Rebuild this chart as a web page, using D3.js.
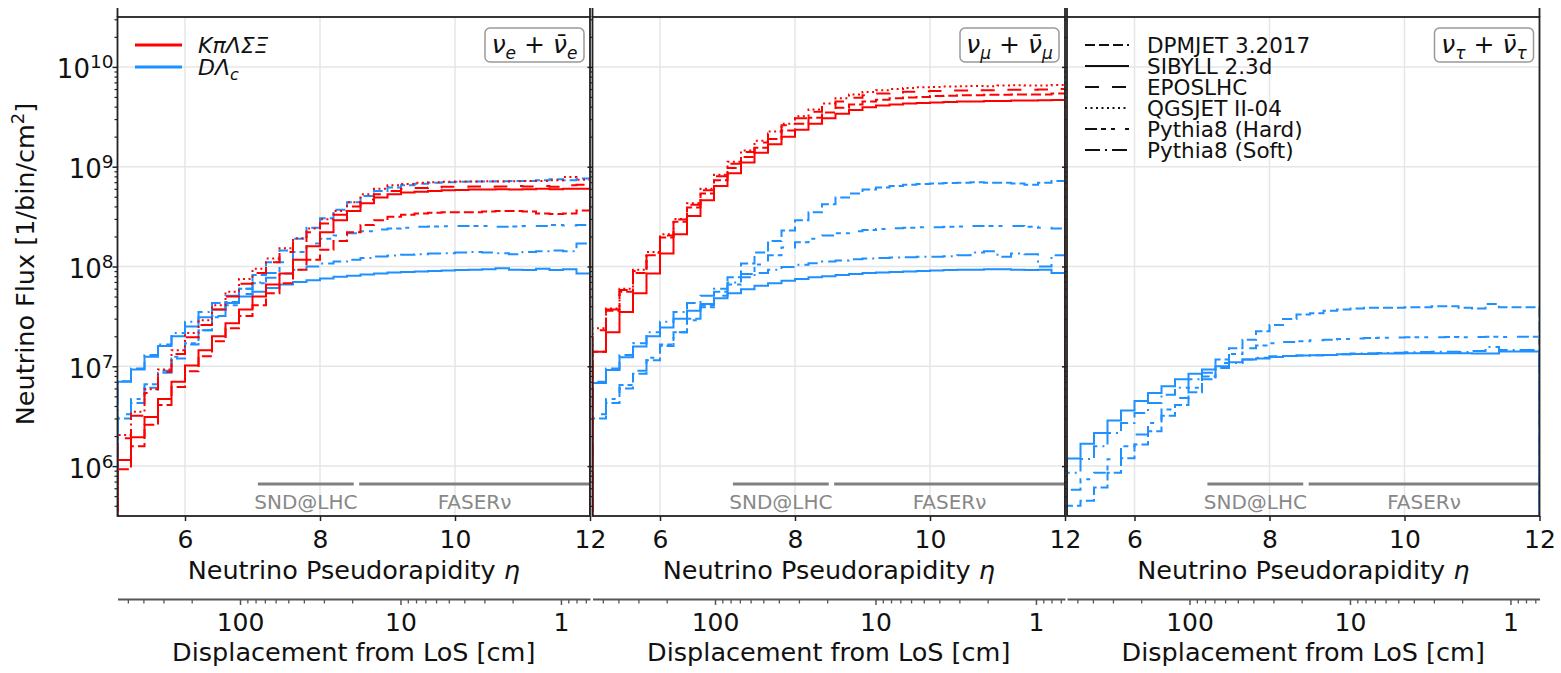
<!DOCTYPE html>
<html>
<head>
<meta charset="utf-8">
<script src="https://cdn.jsdelivr.net/npm/d3@7"></script>
<style>
  body { margin: 0; background: #fff; }
  svg { display: block; font-family: "DejaVu Sans", sans-serif; }
</style>
</head>
<body>
<div id="chart"></div>
<script>
// bin edges in pseudorapidity (35 bins of 0.2)
var etaEdges = [5.0, 5.2, 5.4, 5.6, 5.8, 6.0, 6.2, 6.4, 6.6, 6.8, 7.0, 7.2, 7.4, 7.6, 7.8, 8.0, 8.2, 8.4,
  8.6, 8.8, 9.0, 9.2, 9.4, 9.6, 9.8, 10.0, 10.2, 10.4, 10.6, 10.8, 11.0, 11.2, 11.4, 11.6, 11.8, 12.0];

var etaTicks = [6, 8, 10, 12];
var fluxTicks = [1e6, 1e7, 1e8, 1e9, 1e10];
var dispTicks = [100, 10, 1];
var generators = ["DPMJET 3.2017", "SIBYLL 2.3d", "EPOSLHC", "QGSJET II-04", "Pythia8 (Hard)", "Pythia8 (Soft)"];
var flavours = ["e", "μ", "τ"];
var parents = ["KπΛΣΞ", "DΛ"];

// detector coverage in eta
var detectors = [
  { name: "SND@LHC", from: 7.08, to: 8.5 },
  { name: "FASERν", from: 8.58, to: 12 }
];

// ---- nu_e + nubar_e ----
var nueLightSibyll = [1.15e6, 1.95e6, 3.1e6, 4.7e6, 7.0e6, 1.02e7, 1.45e7, 2.0e7, 2.7e7, 3.7e7, 5.0e7, 6.6e7, 8.5e7, 1.17e8, 1.6e8, 2.2e8, 2.9e8, 3.6e8,
  4.3e8, 4.9e8, 5.3e8, 5.5e8, 5.6e8, 5.7e8, 5.8e8, 5.85e8, 5.9e8, 5.9e8, 5.95e8, 5.9e8, 5.95e8, 6.0e8, 5.95e8, 6.0e8, 6.0e8];
var nueLightEpos = [1.9e6, 3.2e6, 5.4e6, 8.8e6, 1.33e7, 1.95e7, 2.6e7, 3.7e7, 5.0e7, 6.7e7, 8.6e7, 1.1e8, 1.4e8, 1.75e8, 2.2e8, 2.7e8, 3.3e8, 4.0e8,
  4.7e8, 5.3e8, 5.7e8, 6.0e8, 6.1e8, 6.2e8, 6.3e8, 6.3e8, 6.35e8, 6.3e8, 6.35e8, 6.4e8, 6.35e8, 6.4e8, 6.3e8, 6.5e8, 6.6e8];
var nueLightQgsjet = [2.05e6, 3.5e6, 5.9e6, 9.3e6, 1.45e7, 2.15e7, 2.9e7, 4.1e7, 5.6e7, 7.5e7, 9.5e7, 1.2e8, 1.52e8, 1.92e8, 2.4e8, 2.97e8, 3.6e8, 4.4e8,
  5.3e8, 6.0e8, 6.5e8, 6.7e8, 6.9e8, 7.0e8, 7.05e8, 7.1e8, 7.1e8, 7.15e8, 7.1e8, 7.15e8, 7.2e8, 7.2e8, 7.3e8, 7.9e8, 7.4e8];
var nueLightDpmjet = [9.3e5, 1.58e6, 2.6e6, 4.1e6, 6.2e6, 8.9e6, 1.26e7, 1.78e7, 2.4e7, 3.2e7, 4.1e7, 5.4e7, 6.8e7, 9.3e7, 1.17e8, 1.47e8, 1.8e8, 2.2e8,
  2.6e8, 2.9e8, 3.15e8, 3.3e8, 3.4e8, 3.45e8, 3.5e8, 3.5e8, 3.5e8, 3.55e8, 3.6e8, 3.6e8, 3.55e8, 3.4e8, 3.35e8, 3.4e8, 3.65e8];
var nueCharmSibyll = [7.0e6, 9.3e6, 1.25e7, 1.6e7, 2.0e7, 2.5e7, 3.1e7, 3.7e7, 4.3e7, 5.0e7, 5.6e7, 6.1e7, 6.6e7, 7.0e7, 7.3e7, 7.6e7, 7.9e7, 8.1e7,
  8.3e7, 8.5e7, 8.7e7, 8.8e7, 8.9e7, 9.0e7, 9.1e7, 9.2e7, 9.3e7, 9.4e7, 9.6e7, 9.3e7, 9.2e7, 9.5e7, 9.2e7, 9.4e7, 8.5e7];
var nueCharmDpmjet = [3.0e6, 4.3e6, 6.1e6, 8.6e6, 1.2e7, 1.65e7, 2.3e7, 3.2e7, 4.4e7, 6.0e7, 8.2e7, 1.1e8, 1.45e8, 1.9e8, 2.45e8, 3.05e8, 3.7e8, 4.4e8,
  5.1e8, 5.7e8, 6.2e8, 6.5e8, 6.75e8, 6.9e8, 7.0e8, 7.05e8, 7.1e8, 7.1e8, 7.15e8, 7.2e8, 7.2e8, 7.3e8, 7.5e8, 7.3e8, 7.6e8];
var nueCharmHard = [3.3e6, 4.7e6, 6.6e6, 9.0e6, 1.25e7, 1.7e7, 2.3e7, 3.1e7, 4.1e7, 5.3e7, 6.8e7, 8.6e7, 1.1e8, 1.4e8, 1.7e8, 1.9e8, 2.05e8, 2.15e8,
  2.25e8, 2.35e8, 2.4e8, 2.45e8, 2.5e8, 2.52e8, 2.53e8, 2.55e8, 2.55e8, 2.55e8, 2.5e8, 2.52e8, 2.55e8, 2.55e8, 2.6e8, 2.58e8, 2.6e8];
var nueCharmSoft = [7.1e6, 9.5e6, 1.3e7, 1.65e7, 2.15e7, 2.8e7, 3.5e7, 4.3e7, 5.1e7, 6.0e7, 6.9e7, 7.7e7, 8.5e7, 9.3e7, 1.0e8, 1.07e8, 1.12e8, 1.17e8,
  1.22e8, 1.26e8, 1.29e8, 1.31e8, 1.33e8, 1.35e8, 1.36e8, 1.38e8, 1.4e8, 1.38e8, 1.36e8, 1.33e8, 1.4e8, 1.42e8, 1.45e8, 1.42e8, 1.7e8];

// ---- nu_mu + nubar_mu ----
var numuLightSibyll = [1.4e7, 2.2e7, 3.5e7, 5.4e7, 8.5e7, 1.35e8, 2.1e8, 3.2e8, 4.6e8, 6.4e8, 8.6e8, 1.1e9, 1.38e9, 1.68e9, 2.0e9, 2.35e9, 2.7e9, 3.05e9,
  3.4e9, 3.7e9, 3.95e9, 4.1e9, 4.2e9, 4.3e9, 4.35e9, 4.4e9, 4.45e9, 4.5e9, 4.5e9, 4.55e9, 4.55e9, 4.6e9, 4.6e9, 4.62e9, 4.65e9];
var numuLightEpos = [2.3e7, 3.7e7, 5.8e7, 9.0e7, 1.37e8, 2.05e8, 2.95e8, 4.15e8, 5.8e8, 8.0e8, 1.07e9, 1.4e9, 1.75e9, 2.15e9, 2.6e9, 3.05e9, 3.55e9, 4.05e9,
  4.5e9, 4.9e9, 5.2e9, 5.4e9, 5.55e9, 5.65e9, 5.7e9, 5.75e9, 5.8e9, 5.8e9, 5.85e9, 5.85e9, 5.9e9, 5.9e9, 5.9e9, 5.95e9, 6.0e9];
var numuLightQgsjet = [2.4e7, 3.8e7, 6.0e7, 9.3e7, 1.4e8, 2.1e8, 3.0e8, 4.3e8, 6.0e8, 8.3e8, 1.12e9, 1.45e9, 1.82e9, 2.25e9, 2.7e9, 3.2e9, 3.75e9, 4.3e9,
  4.85e9, 5.3e9, 5.6e9, 5.85e9, 6.0e9, 6.15e9, 6.25e9, 6.3e9, 6.35e9, 6.4e9, 6.45e9, 6.4e9, 6.5e9, 6.55e9, 6.5e9, 6.5e9, 6.6e9];
var numuLightDpmjet = [1.4e7, 3.6e7, 5.6e7, 8.6e7, 1.3e8, 1.95e8, 2.8e8, 3.9e8, 5.4e8, 7.3e8, 9.7e8, 1.25e9, 1.55e9, 1.9e9, 2.3e9, 2.7e9, 3.1e9, 3.5e9,
  3.9e9, 4.2e9, 4.5e9, 4.7e9, 4.85e9, 4.95e9, 5.0e9, 5.1e9, 5.15e9, 5.2e9, 5.2e9, 5.25e9, 5.25e9, 5.3e9, 5.3e9, 5.3e9, 5.4e9];
var numuCharmSibyll = [6.8e6, 9.2e6, 1.23e7, 1.58e7, 2.0e7, 2.45e7, 3.0e7, 3.6e7, 4.2e7, 4.8e7, 5.4e7, 5.9e7, 6.4e7, 6.8e7, 7.2e7, 7.5e7, 7.8e7, 8.0e7,
  8.2e7, 8.4e7, 8.6e7, 8.7e7, 8.8e7, 8.9e7, 9.0e7, 9.1e7, 9.2e7, 9.3e7, 9.3e7, 9.4e7, 9.4e7, 9.3e7, 9.2e7, 9.3e7, 8.6e7];
var numuCharmDpmjet = [3.0e6, 4.3e6, 6.0e6, 8.4e6, 1.15e7, 1.6e7, 2.2e7, 3.0e7, 4.1e7, 5.6e7, 7.8e7, 1.07e8, 1.38e8, 1.8e8, 2.3e8, 2.9e8, 3.5e8, 4.2e8,
  4.9e8, 5.4e8, 5.9e8, 6.2e8, 6.4e8, 6.6e8, 6.7e8, 6.8e8, 6.85e8, 6.9e8, 7.0e8, 6.9e8, 6.9e8, 6.8e8, 6.6e8, 6.9e8, 7.2e8];
var numuCharmHard = [3.3e6, 4.7e6, 6.5e6, 9.0e6, 1.22e7, 1.65e7, 2.2e7, 2.9e7, 3.9e7, 5.1e7, 6.6e7, 8.4e7, 1.05e8, 1.3e8, 1.55e8, 1.75e8, 1.9e8, 2.05e8,
  2.15e8, 2.25e8, 2.32e8, 2.38e8, 2.42e8, 2.45e8, 2.47e8, 2.48e8, 2.5e8, 2.52e8, 2.55e8, 2.55e8, 2.55e8, 2.55e8, 2.5e8, 2.45e8, 2.4e8];
var numuCharmSoft = [7.0e6, 9.5e6, 1.3e7, 1.7e7, 2.2e7, 2.8e7, 3.5e7, 4.3e7, 5.1e7, 6.0e7, 6.9e7, 7.8e7, 8.6e7, 9.3e7, 9.9e7, 1.04e8, 1.08e8, 1.12e8,
  1.15e8, 1.18e8, 1.2e8, 1.22e8, 1.23e8, 1.24e8, 1.25e8, 1.25e8, 1.27e8, 1.3e8, 1.38e8, 1.42e8, 1.25e8, 1.35e8, 1.33e8, 1.0e8, 1.3e8];

// ---- nu_tau + nubar_tau ----
var nutauCharmSibyll = [1.19e6, 1.67e6, 2.15e6, 2.86e6, 3.6e6, 4.5e6, 5.4e6, 6.3e6, 7.4e6, 8.4e6, 9.3e6, 1.0e7, 1.1e7, 1.17e7, 1.2e7, 1.24e7, 1.27e7, 1.28e7,
  1.29e7, 1.3e7, 1.32e7, 1.33e7, 1.33e7, 1.34e7, 1.34e7, 1.35e7, 1.35e7, 1.35e7, 1.35e7, 1.35e7, 1.34e7, 1.34e7, 1.41e7, 1.41e7, 1.41e7];
var nutauCharmDpmjet = [4.0e5, 4.5e5, 6.1e5, 8.6e5, 1.2e6, 1.65e6, 2.24e6, 3.2e6, 4.1e6, 5.5e6, 7.4e6, 1.17e7, 1.52e7, 1.85e7, 2.24e7, 2.6e7, 2.97e7, 3.3e7,
  3.4e7, 3.6e7, 3.7e7, 3.8e7, 3.85e7, 3.85e7, 3.85e7, 3.9e7, 3.9e7, 4.0e7, 4.0e7, 3.85e7, 3.8e7, 4.2e7, 3.9e7, 3.9e7, 3.9e7];
var nutauCharmHard = [5.8e5, 7.4e5, 8.6e5, 1.17e6, 1.58e6, 2.07e6, 2.7e6, 3.7e6, 4.8e6, 6.1e6, 7.9e6, 1.08e7, 1.33e7, 1.52e7, 1.62e7, 1.7e7, 1.75e7, 1.78e7,
  1.82e7, 1.85e7, 1.88e7, 1.9e7, 1.92e7, 1.93e7, 1.94e7, 1.95e7, 1.96e7, 1.96e7, 1.97e7, 1.96e7, 1.97e7, 1.98e7, 1.97e7, 1.98e7, 1.98e7];
var nutauCharmSoft = [8.6e5, 1.18e6, 1.58e6, 2.15e6, 2.7e6, 3.4e6, 4.3e6, 5.2e6, 6.1e6, 7.4e6, 8.6e6, 9.6e6, 1.08e7, 1.17e7, 1.22e7, 1.26e7, 1.27e7, 1.28e7,
  1.29e7, 1.3e7, 1.32e7, 1.34e7, 1.35e7, 1.36e7, 1.37e7, 1.38e7, 1.39e7, 1.4e7, 1.4e7, 1.39e7, 1.42e7, 1.56e7, 1.46e7, 1.46e7, 1.46e7];

// line style per generator, colour per parent
var dashStyle = {
  "DPMJET 3.2017": "10,4",
  "SIBYLL 2.3d": null,
  "EPOSLHC": "14,13",
  "QGSJET II-04": "2,3.5",
  "Pythia8 (Hard)": "12,4,5,5,4,10",
  "Pythia8 (Soft)": "15,5,2,5"
};
var red = "#ff0000", blue = "#1e90ff";

var panels = [
  { flavour: flavours[0], series: [
    { c: blue, gen: "SIBYLL 2.3d", v: nueCharmSibyll },
    { c: blue, gen: "Pythia8 (Soft)", v: nueCharmSoft },
    { c: blue, gen: "Pythia8 (Hard)", v: nueCharmHard },
    { c: blue, gen: "DPMJET 3.2017", v: nueCharmDpmjet },
    { c: red, gen: "DPMJET 3.2017", v: nueLightDpmjet },
    { c: red, gen: "EPOSLHC", v: nueLightEpos },
    { c: red, gen: "QGSJET II-04", v: nueLightQgsjet },
    { c: red, gen: "SIBYLL 2.3d", v: nueLightSibyll }
  ]},
  { flavour: flavours[1], series: [
    { c: blue, gen: "SIBYLL 2.3d", v: numuCharmSibyll },
    { c: blue, gen: "Pythia8 (Soft)", v: numuCharmSoft },
    { c: blue, gen: "Pythia8 (Hard)", v: numuCharmHard },
    { c: blue, gen: "DPMJET 3.2017", v: numuCharmDpmjet },
    { c: red, gen: "DPMJET 3.2017", v: numuLightDpmjet },
    { c: red, gen: "EPOSLHC", v: numuLightEpos },
    { c: red, gen: "QGSJET II-04", v: numuLightQgsjet },
    { c: red, gen: "SIBYLL 2.3d", v: numuLightSibyll }
  ]},
  { flavour: flavours[2], series: [
    { c: blue, gen: "DPMJET 3.2017", v: nutauCharmDpmjet },
    { c: blue, gen: "Pythia8 (Hard)", v: nutauCharmHard },
    { c: blue, gen: "Pythia8 (Soft)", v: nutauCharmSoft },
    { c: blue, gen: "SIBYLL 2.3d", v: nutauCharmSibyll }
  ]}
];

// layout
var svgWidth = 1561, svgHeight = 673;
var panelLefts = [117.5, 592.5, 1067];
var panelWidth = 472.5;
var plotTop = 17, plotBottom = 516;
var dispAxisY = 599;

var svg = d3.select("#chart").append("svg")
  .attr("width", svgWidth)
  .attr("height", svgHeight);

var y = d3.scaleLog().domain([Math.pow(10, 5.5), Math.pow(10, 10.5)]).range([plotBottom, plotTop]);

// minor log ticks
var minorFlux = [];
for (var k = 5; k <= 10; k++) {
  for (var m = 2; m <= 9; m++) {
    var mv = m * Math.pow(10, k);
    if (mv > y.domain()[0] && mv < y.domain()[1]) minorFlux.push(mv);
  }
}

panels.forEach(function(p, pi) {
  var left = panelLefts[pi], right = left + panelWidth;
  var x = d3.scaleLinear().domain([5, 12]).range([left, right]);
  var disp = d3.scaleLog().domain([580, 0.659]).range([left, right]);

  var g = svg.append("g");

  // clip
  svg.append("clipPath").attr("id", "clip" + pi)
    .append("rect").attr("x", left).attr("y", plotTop).attr("width", panelWidth).attr("height", plotBottom - plotTop);

  // grid
  g.selectAll(".gx").data(etaTicks).enter().append("line")
    .attr("x1", d => x(d)).attr("x2", d => x(d))
    .attr("y1", plotTop).attr("y2", plotBottom)
    .attr("stroke", "#e6e6e6").attr("stroke-width", 1.5);
  g.selectAll(".gy").data(fluxTicks).enter().append("line")
    .attr("x1", left).attr("x2", right)
    .attr("y1", d => y(d)).attr("y2", d => y(d))
    .attr("stroke", "#e6e6e6").attr("stroke-width", 1.5);

  // detector ranges
  detectors.forEach(function(det) {
    g.append("line")
      .attr("x1", x(det.from)).attr("x2", x(det.to))
      .attr("y1", 484).attr("y2", 484)
      .attr("stroke", "#808080").attr("stroke-width", 3);
    g.append("text")
      .attr("x", (x(det.from) + x(det.to)) / 2).attr("y", 509)
      .attr("text-anchor", "middle")
      .attr("fill", "#888")
      .style("font-size", "20px")
      .text(det.name);
  });

  // step histograms
  var line = d3.line()
    .x(d => x(d[0]))
    .y(d => y(d[1]))
    .curve(d3.curveStepAfter);
  var last = etaEdges[etaEdges.length - 1];
  var curves = g.append("g").attr("clip-path", "url(#clip" + pi + ")");
  p.series.forEach(function(s) {
    var pts = [[etaEdges[0], 1e5]];
    s.v.forEach(function(v, i) { pts.push([etaEdges[i], v]); });
    pts.push([last, s.v[s.v.length - 1]]);
    pts.push([last, 1e5]);
    curves.append("path")
      .attr("d", line(pts))
      .attr("fill", "none")
      .attr("stroke", s.c)
      .attr("stroke-width", 2)
      .attr("stroke-dasharray", dashStyle[s.gen]);
  });

  // x axis
  var xAxis = g.append("g")
    .attr("transform", `translate(0, ${plotBottom})`)
    .call(d3.axisBottom(x).tickValues(etaTicks).tickSize(5).tickSizeOuter(0).tickPadding(9).tickFormat(d3.format("d")));
  xAxis.select(".domain").remove();
  xAxis.selectAll("line").attr("stroke", "#222").attr("stroke-width", 1.5);
  xAxis.selectAll("text").style("font-size", "25px").attr("fill", "#111").style("font-family", "DejaVu Sans");

  // y axis
  var yAxis = g.append("g")
    .attr("transform", `translate(${left}, 0)`)
    .call(d3.axisLeft(y).tickValues(fluxTicks).tickSize(5).tickSizeOuter(0).tickPadding(-1).tickFormat(""));
  yAxis.select(".domain").remove();
  yAxis.selectAll("line").attr("stroke", "#222").attr("stroke-width", 1.5);
  var yMinor = g.append("g")
    .attr("transform", `translate(${left}, 0)`)
    .call(d3.axisLeft(y).tickValues(minorFlux).tickSize(3).tickSizeOuter(0).tickFormat(""));
  yMinor.select(".domain").remove();
  yMinor.selectAll("line").attr("stroke", "#222").attr("stroke-width", 1.2);

  if (pi === 0) {
    yAxis.selectAll(".tick text").each(function(d) {
      var t = d3.select(this)
        .attr("dy", "0.42em")
        .style("font-size", "26px")
        .style("font-family", "DejaVu Sans")
        .attr("fill", "#111");
      t.append("tspan").text("10");
      t.append("tspan").attr("dy", -10).style("font-size", "18.5px").text(Math.round(Math.log10(d)));
    });
  }

  // spines
  g.append("rect")
    .attr("x", left).attr("y", plotTop).attr("width", panelWidth).attr("height", plotBottom - plotTop)
    .attr("fill", "none").attr("stroke", "#222").attr("stroke-width", 1.8);
  [left, right].forEach(function(sx) {
    g.append("line").attr("x1", sx).attr("x2", sx).attr("y1", 8).attr("y2", plotTop)
      .attr("stroke", "#222").attr("stroke-width", 1.8);
  });

  // x label
  var xl = g.append("text")
    .attr("x", (left + right) / 2).attr("y", 579)
    .attr("text-anchor", "middle")
    .style("font-size", "25.5px").attr("fill", "#111")
    .text("Neutrino Pseudorapidity ");
  xl.append("tspan").style("font-style", "italic").text("η");

  // displacement axis
  var minorDisp = [];
  [0.1, 1, 10, 100].forEach(function(dec) {
    for (var m = 2; m <= 9; m++) {
      var dv = m * dec;
      if (dv < 580 && dv > 0.659) minorDisp.push(dv);
    }
  });
  var dAxis = g.append("g")
    .attr("transform", `translate(0, ${dispAxisY})`)
    .call(d3.axisBottom(disp).tickValues(dispTicks).tickSize(6).tickSizeOuter(0).tickPadding(8).tickFormat(d3.format("d")));
  dAxis.select(".domain").attr("stroke", "#555").attr("stroke-width", 2);
  dAxis.selectAll("line").attr("stroke", "#555").attr("stroke-width", 1.5);
  dAxis.selectAll("text").style("font-size", "25px").attr("fill", "#111").style("font-family", "DejaVu Sans");
  var dMinor = g.append("g")
    .attr("transform", `translate(0, ${dispAxisY})`)
    .call(d3.axisBottom(disp).tickValues(minorDisp).tickSize(4.5).tickSizeOuter(0).tickFormat(""));
  dMinor.select(".domain").remove();
  dMinor.selectAll("line").attr("stroke", "#555").attr("stroke-width", 1.3);

  g.append("text")
    .attr("x", (left + right) / 2).attr("y", 661)
    .attr("text-anchor", "middle")
    .style("font-size", "25.5px").attr("fill", "#111")
    .text("Displacement from LoS [cm]");

  // flavour box
  g.append("rect")
    .attr("x", right - 105).attr("y", 28).attr("width", 99).attr("height", 34)
    .attr("rx", 5).attr("fill", "#fff").attr("stroke", "#999").attr("stroke-width", 1.5);
  var ft = g.append("text")
    .attr("x", right - 55.5).attr("y", 53)
    .attr("text-anchor", "middle")
    .style("font-size", "25px").attr("fill", "#111");
  ft.append("tspan").style("font-style", "italic").text("ν");
  ft.append("tspan").attr("dy", 6).style("font-size", "17px").style("font-style", "italic").text(p.flavour);
  ft.append("tspan").attr("dy", -6).text(" + ");
  ft.append("tspan").style("font-style", "italic").text("ν\u0304");
  ft.append("tspan").attr("dy", 6).style("font-size", "17px").style("font-style", "italic").text(p.flavour);
});

// y label
var ylab = svg.append("text")
  .attr("transform", "translate(34, 264) rotate(-90)")
  .attr("text-anchor", "middle")
  .style("font-size", "25.5px").attr("fill", "#111")
  .text("Neutrino Flux [1/bin/cm");
ylab.append("tspan").attr("dy", -10).style("font-size", "18px").text("2");
ylab.append("tspan").attr("dy", 10).text("]");

// parent legend (panel 1)
var parentColors = [red, blue];
parents.forEach(function(name, i) {
  var ly = 45 + i * 22;
  svg.append("line").attr("x1", 135).attr("x2", 182).attr("y1", ly).attr("y2", ly)
    .attr("stroke", parentColors[i]).attr("stroke-width", 3);
  var t = svg.append("text").attr("x", 198).attr("y", ly + 8)
    .style("font-size", "22px").style("font-style", "italic").attr("fill", "#111")
    .text(name);
  if (i === 1) t.append("tspan").attr("dy", 5).style("font-size", "16px").text("c");
});

// generator legend (panel 3)
generators.forEach(function(name, i) {
  var ly = 45 + i * 21;
  svg.append("line").attr("x1", 1085).attr("x2", 1129).attr("y1", ly).attr("y2", ly)
    .attr("stroke", "#111").attr("stroke-width", 2)
    .attr("stroke-dasharray", dashStyle[name]);
  svg.append("text").attr("x", 1147).attr("y", ly + 8)
    .style("font-size", "21.5px").attr("fill", "#111")
    .text(name);
});
</script>
</body>
</html>
